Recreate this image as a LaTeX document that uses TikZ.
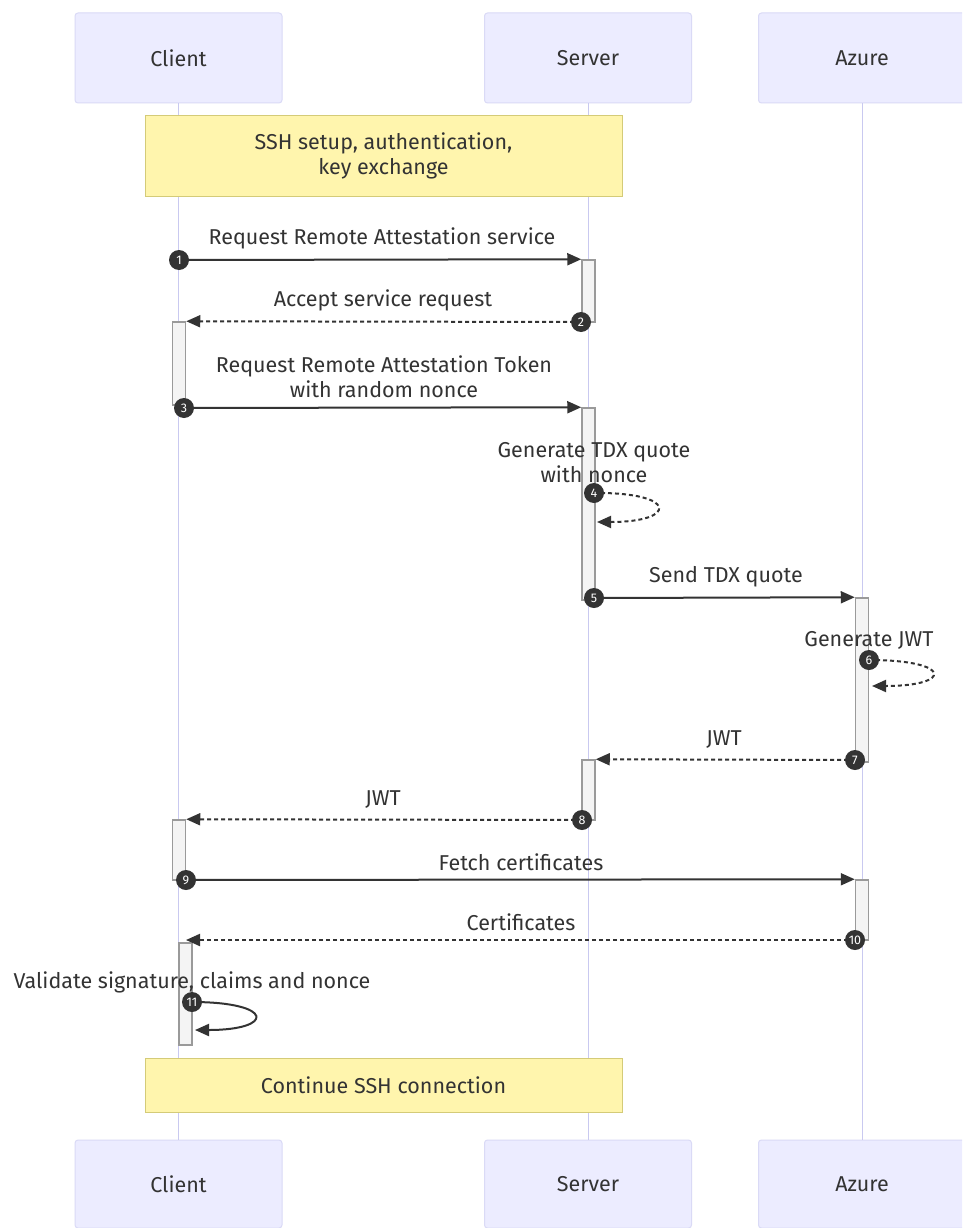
\documentclass[tikz,border=0pt]{standalone}
\usepackage{fontspec}
\setmainfont{Fira Sans}
\usetikzlibrary{arrows.meta}
\definecolor{actfill}{HTML}{ECECFF}
\definecolor{actdraw}{HTML}{DADAF6}
\definecolor{lifec}{HTML}{C9C9F0}
\definecolor{notefill}{HTML}{FFF5AD}
\definecolor{notedraw}{HTML}{D4CB78}
\definecolor{ink}{HTML}{333333}
\definecolor{actvfill}{HTML}{F4F4F4}
\definecolor{actvdraw}{HTML}{9A9A9A}
\begin{document}
\begin{tikzpicture}[x=1pt,y=-1pt, font=\fontsize{21.5}{25}\selectfont, text=ink,
 actor/.style={draw=actdraw, fill=actfill, rounded corners=3pt, minimum width=207pt, minimum height=90pt, line width=1pt, inner sep=0},
 life/.style={draw=lifec, line width=1pt},
 note/.style={draw=notedraw, fill=notefill, line width=1pt, inner sep=0, align=center, minimum width=477pt},
 actv/.style={draw=actvdraw, fill=actvfill, line width=1.5pt, minimum width=13pt, inner sep=0},
 msg/.style={draw=ink, line width=2pt, -{Triangle[length=14pt,width=12pt]}},
 reply/.style={msg, dash pattern=on 4pt off 3pt},
 num/.style={circle, fill=ink, text=white, inner sep=0, minimum size=20pt, font=\fontsize{12.5}{13}\selectfont},
 lbl/.style={align=center, inner sep=0}
]
\fill[white] (0,0) rectangle (962,1228);
\useasboundingbox (0,0) rectangle (962,1228);
\clip (0,0) rectangle (962,1228);
% actors
\node[actor] (cT) at (178.5,58) {Client};
\node[actor] (sT) at (588,58) {Server};
\node[actor] (zT) at (862,58) {Azure};
\node[actor, minimum height=88pt] (cB) at (178.5,1184) {Client};
\node[actor, minimum height=88pt] (sB) at (588,1184) {Server};
\node[actor, minimum height=88pt] (zB) at (862,1184) {Azure};
% lifelines
\draw[life] (cT.south) -- (cB.north);
\draw[life] (sT.south) -- (sB.north);
\draw[life] (zT.south) -- (zB.north);
% notes
\node[note, minimum height=80pt] (note1) at (383.5,156) {SSH setup, authentication,\\key exchange};
\node[note, minimum height=54pt] (note2) at (383.5,1085) {Continue SSH connection};
% activations
\node[actv, minimum height=62pt] (s1) at (588.5,291) {};
\node[actv, minimum height=83pt] (c1) at (179,363.5) {};
\node[actv, minimum height=192pt] (s2) at (588.5,504) {};
\node[actv, minimum height=164pt] (z1) at (862,680) {};
\node[actv, minimum height=60pt] (s3) at (588.5,790) {};
\node[actv, minimum height=60pt] (c2) at (179,850) {};
\node[actv, minimum height=60pt] (z2) at (862,910) {};
\node[actv, minimum height=102pt] (c3) at (185.5,994) {};
% number circles (positions)
\coordinate (p1) at (179,260);
\coordinate (p2) at (581,322);
\coordinate (p3) at (184,408);
\coordinate (p4) at (594,493);
\coordinate (p5) at (594,598);
\coordinate (p6) at (869,660);
\coordinate (p7) at (855,760);
\coordinate (p8) at (582,820);
\coordinate (p9) at (186,880);
\coordinate (p10) at (855,940);
\coordinate (p11) at (192,1002);
\coordinate (e4) at (597,522);
\coordinate (e6) at (872,686);
\coordinate (e11) at (195,1030);
\coordinate (e10) at (186,940);
% messages
\draw[msg] (p1) -- (s1.north west);
\draw[reply] (p2) -- (c1.north east);
\draw[msg] (p3) -- (s2.north west);
\draw[reply] (p4) .. controls (678,492) and (678,522) .. (e4);
\draw[msg] (p5) -- (z1.north west);
\draw[reply] (p6) .. controls (953,660) and (953,686) .. (e6);
\draw[reply] (p7) -- (s3.north east);
\draw[reply] (p8) -- (c2.north east);
\draw[msg] (p9) -- (z2.north west);
\draw[reply] (p10) -- (e10);
\draw[msg] (p11) .. controls (275,1002) and (275,1030) .. (e11);
% circles
\foreach \i in {1,...,11} {\node[num] (n\i) at (p\i) {\i};}
% labels
\node[lbl] (l1) at (382,238) {Request Remote Attestation service};
\node[lbl] (l2) at (383,300) {Accept service request};
\node[lbl] (l3) at (384,377) {Request Remote Attestation Token\\with random nonce};
\node[lbl] (l4) at (594,463) {Generate TDX quote\\with nonce};
\node[lbl] (l5) at (726,577) {Send TDX quote};
\node[lbl] (l6) at (869,640) {Generate JWT};
\node[lbl] (l7) at (724,740) {JWT};
\node[lbl] (l8) at (383,800) {JWT};
\node[lbl] (l9) at (521,862) {Fetch certificates};
\node[lbl] (l10) at (521,922) {Certificates};
\node[lbl] (l11) at (192,982) {Validate signature, claims and nonce};
\end{tikzpicture}
\end{document}
